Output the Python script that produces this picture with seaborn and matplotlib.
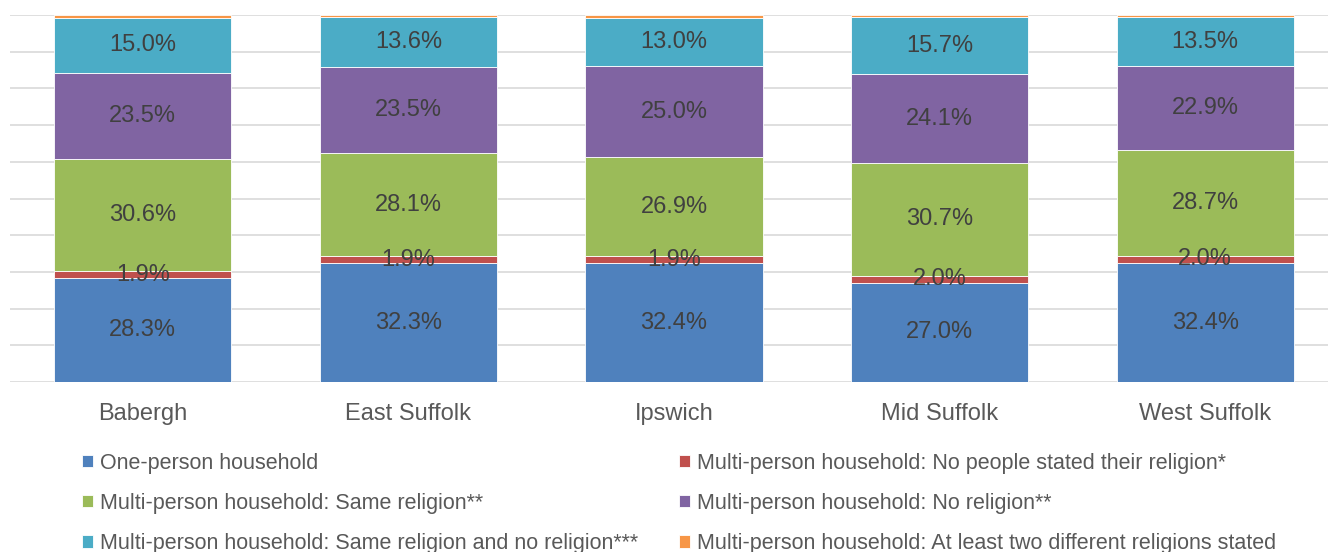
import numpy as np
import pandas as pd
import matplotlib
matplotlib.use("Agg")
import matplotlib.pyplot as plt
import seaborn as sns

# ── data ─────────────────────────────────────────────────────────────────────
districts = ["Babergh", "East Suffolk", "Ipswich", "Mid Suffolk", "West Suffolk"]

one_person = [28.3, 32.3, 32.4, 27.0, 32.4]
no_stated = [1.9, 1.9, 1.9, 2.0, 2.0]
same_religion = [30.6, 28.1, 26.9, 30.7, 28.7]
no_religion = [23.5, 23.5, 25.0, 24.1, 22.9]
same_and_none = [15.0, 13.6, 13.0, 15.7, 13.5]
two_religions = [0.7, 0.6, 0.8, 0.5, 0.5]

series_names = [
    "One-person household",
    "Multi-person household: No people stated their religion*",
    "Multi-person household: Same religion**",
    "Multi-person household: No religion**",
    "Multi-person household: Same religion and no religion***",
    "Multi-person household: At least two different religions stated",
]
series_values = [one_person, no_stated, same_religion, no_religion, same_and_none, two_religions]
colors = ["#4F81BD", "#C0504D", "#9BBB59", "#8064A2", "#4BACC6", "#F79646"]
show_labels = [True, True, True, True, True, False]

# ── figure ───────────────────────────────────────────────────────────────────
sns.set_theme(style="white")
plt.rcParams["font.family"] = ["Liberation Sans", "DejaVu Sans"]

fig = plt.figure(figsize=(13.28, 5.52), dpi=100)
ax = fig.add_axes([10 / 1328, 170 / 552, 1.0, 367 / 552])

df = pd.DataFrame({"district": districts})
bottom = np.zeros(len(districts))
for name, vals, col in zip(series_names, series_values, colors):
    vals = np.array(vals)
    sns.barplot(x=df["district"], y=vals, bottom=bottom, color=col, saturation=1,
                width=0.667, edgecolor="white", linewidth=0.6, ax=ax, label=name,
                zorder=3)
    bottom = bottom + vals

# data labels at segment centres
bottom = np.zeros(len(districts))
for vals, show in zip(series_values, show_labels):
    vals = np.array(vals)
    if show:
        for i, v in enumerate(vals):
            ax.text(i, bottom[i] + v / 2, f"{v:.1f}%", ha="center", va="center",
                    fontsize=17, color="#404040", zorder=5)
    bottom = bottom + vals

ax.set_ylim(0, 100)
ax.set_xlim(-0.5, len(districts) - 0.5)
ax.set_yticks(np.arange(0, 101, 10))
ax.set_yticklabels([])
ax.yaxis.grid(True, color="#D9D9D9", linewidth=1.2, zorder=0)
ax.set_axisbelow(True)
ax.tick_params(axis="x", length=0, labelsize=17, labelcolor="#595959", pad=15)
ax.tick_params(axis="y", length=0)
ax.set_xlabel("")
ax.set_ylabel("")
for s in ax.spines.values():
    s.set_visible(False)

# legend: row-major order like the original (ncol fills column-wise)
handles, labels = ax.get_legend_handles_labels()
order = [0, 2, 4, 1, 3, 5]
ax.legend([handles[i] for i in order], [labels[i] for i in order],
          loc="upper left", bbox_to_anchor=(71 / 1328, 1 - 442 / 552),
          bbox_transform=fig.transFigure, ncol=2, frameon=False,
          fontsize=15.5, labelcolor="#595959", handlelength=0.5, handleheight=0.5,
          handletextpad=0.34, labelspacing=0.89, columnspacing=1.9, borderpad=0)

fig.savefig("out.png", dpi=100)
